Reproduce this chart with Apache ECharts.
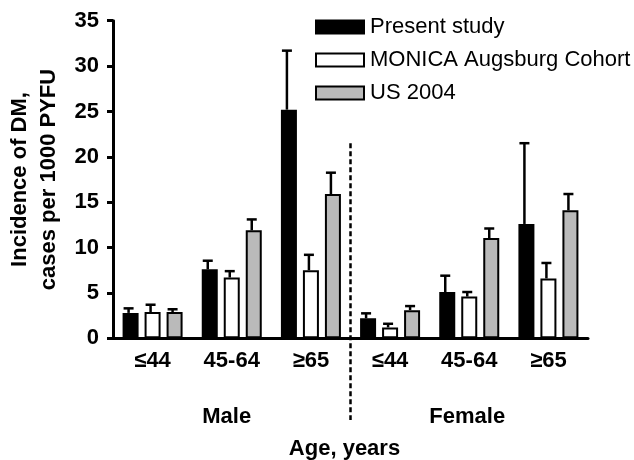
<!DOCTYPE html>
<html><head><meta charset="utf-8">
<script src="https://cdn.jsdelivr.net/npm/echarts@6/dist/echarts.min.js"></script>
<style>html,body{margin:0;padding:0;background:#fff}#c{width:634px;height:460px}</style>
</head><body><div id="c"></div>
<script>
const categories = ['≤44','45-64','≥65','≤44','45-64','≥65'];
const groupLabels = ['Male','Female'];
const seriesNames = ['Present study','MONICA Augsburg Cohort','US 2004'];
const presentStudy = [2.8, 7.6, 25.2, 2.2, 5.1, 12.6];
const presentStudyErr = [3.3, 8.55, 31.7, 2.75, 6.9, 21.5];
const monica = [2.9, 6.7, 7.5, 1.2, 4.6, 6.6];
const monicaErr = [3.7, 7.4, 9.2, 1.6, 5.1, 8.3];
const us2004 = [2.9, 11.9, 15.9, 3.1, 11.05, 14.1];
const us2004Err = [3.2, 13.1, 18.25, 3.55, 12.1, 15.9];
const yTicks = {min:0, max:35, interval:5};

const FONT = 'Liberation Sans, Arial, sans-serif';
const colors = ['#000000','#ffffff','#bababa'];
const values = [presentStudy, monica, us2004];
const errs = [presentStudyErr, monicaErr, us2004Err];
const BAR_W = 16, GAP = 6;

const chart = echarts.init(document.getElementById('c'));
const series = [];
seriesNames.forEach((n,i)=>{
  series.push({
    name:n, type:'bar', data: values[i], barWidth: BAR_W, barGap: (GAP/BAR_W*100)+'%',
    barCategoryGap:'24%',
    itemStyle:{color:colors[i], borderColor:'#000', borderWidth:2},
    emphasis:{disabled:true}, z:3
  });
});
seriesNames.forEach((n,i)=>{
  series.push({
    name:n+' err', type:'custom', z:2,
    data: values[i].map((v,k)=>[k, v, errs[i][k]]),
    renderItem(params, api){
      const off = (i-1)*(BAR_W+GAP) - 2;
      const a = api.coord([api.value(0), api.value(1)]);
      const b = api.coord([api.value(0), api.value(2)]);
      const x = a[0]+off;
      return {type:'group', children:[
        {type:'line', shape:{x1:x,y1:a[1],x2:x,y2:b[1]}, style:{stroke:'#000', lineWidth:2.5}},
        {type:'line', shape:{x1:x-5,y1:b[1],x2:x+5,y2:b[1]}, style:{stroke:'#000', lineWidth:2.5}}
      ]};
    }
  });
});

chart.setOption({
  animation:false,
  textStyle:{fontFamily:FONT},
  grid:{left:113, right:46, top:20.7, bottom:121.7, outerBoundsMode:'none', containLabel:false},
  legend:{
    data: seriesNames, orient:'vertical', left:310, top:11,
    icon:'rect', itemWidth:48, itemHeight:13, itemGap:11,
    textStyle:{fontSize:22, lineHeight:22, color:'#000', fontFamily:FONT, padding:[0,0,0,1]},
    selectedMode:false
  },
  xAxis:{
    type:'category', data:categories,
    axisLine:{lineStyle:{color:'#000', width:3}},
    axisTick:{alignWithLabel:true, length:7, lineStyle:{width:3, color:'#000'}},
    axisLabel:{fontSize:22, fontWeight:'bold', color:'#000', margin:12, fontFamily:FONT},
    name:'Age, years', nameLocation:'middle', nameGap:100,
    nameTextStyle:{fontSize:22, fontWeight:'bold', color:'#000', fontFamily:FONT, padding:[0,12,0,0]}
  },
  yAxis:{
    type:'value', min:yTicks.min, max:yTicks.max, interval:yTicks.interval,
    splitLine:{show:false},
    axisLine:{show:true, lineStyle:{color:'#000', width:3}},
    axisTick:{show:true, length:6, lineStyle:{width:3, color:'#000'}},
    axisLabel:{fontSize:22, fontWeight:'bold', color:'#000', margin:14, fontFamily:FONT},
    name:'Incidence of DM,\ncases per 1000 PYFU', nameLocation:'middle', nameGap:43, nameRotate:90,
    nameTextStyle:{fontSize:22, fontWeight:'bold', color:'#000', lineHeight:29, fontFamily:FONT}
  },
  series
});

// Divider and group labels positioned from the axis scale
const c0 = chart.convertToPixel({xAxisIndex:0}, 0);
const c1 = chart.convertToPixel({xAxisIndex:0}, 1);
const band = c1 - c0;
const divX = chart.convertToPixel({xAxisIndex:0}, 2) + band/2;
const maleX = chart.convertToPixel({xAxisIndex:0}, 1) - 5;
const femaleX = chart.convertToPixel({xAxisIndex:0}, 4) - 2;
const yTop = chart.convertToPixel({yAxisIndex:0}, 21.5);
chart.setOption({graphic:[
  {type:'line', shape:{x1:divX, y1:yTop, x2:divX, y2:420}, style:{stroke:'#000', lineWidth:2.5, lineDash:[5,3]}, z:5},
  {type:'text', x:maleX, y:417, style:{text:groupLabels[0], font:'bold 22px '+FONT, fill:'#000', align:'center', verticalAlign:'middle'}},
  {type:'text', x:femaleX, y:417, style:{text:groupLabels[1], font:'bold 22px '+FONT, fill:'#000', align:'center', verticalAlign:'middle'}}
]});
</script></body></html>
